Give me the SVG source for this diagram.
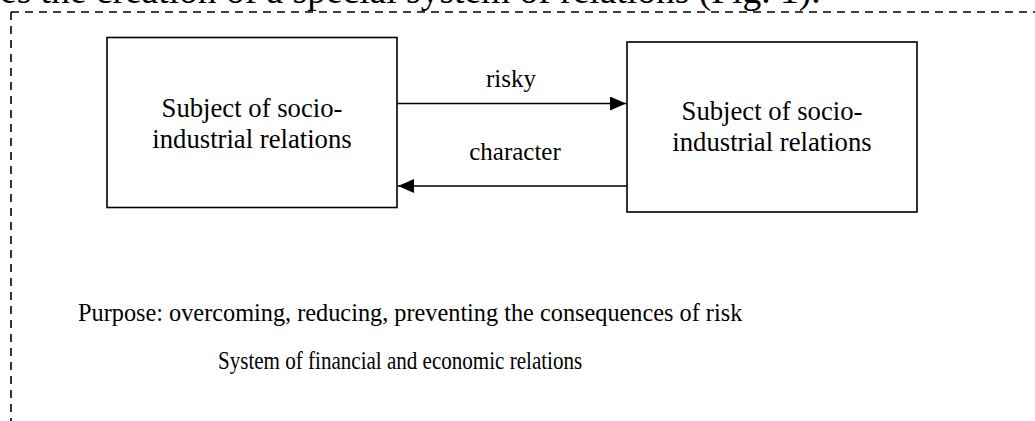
<svg xmlns="http://www.w3.org/2000/svg" width="1035" height="421" viewBox="0 0 1035 421">
  <style>
    .t { font-family: "Liberation Serif", "Times New Roman", serif; fill: #000; }
    .box { fill: #fff; stroke: #000; stroke-width: 1.6; }
    .conn { stroke: #000; stroke-width: 1.6; fill: none; }
    .dash { stroke: #000; stroke-width: 1.6; fill: none; stroke-dasharray: 8 6; }
  </style>
  <defs>
    <marker id="ah" markerWidth="16" markerHeight="14" refX="16" refY="7" orient="auto" markerUnits="userSpaceOnUse">
      <path d="M0,0 L16,7 L0,14 Z" fill="#000"/>
    </marker>
  </defs>
  <rect width="1035" height="421" fill="#fff"/>
  <text class="t" x="0" y="3" font-size="37.5">es the creation of a special system of relations (Fig. 1).</text>
  <g id="frame">
    <path class="dash" d="M11,12 L1035,12"/>
    <path class="dash" d="M11,12 L11,421"/>
  </g>
  <g id="subject-left">
    <rect class="box" x="107" y="37.5" width="290" height="170"/>
    <text class="t" x="252" y="117" font-size="26.7" text-anchor="middle">Subject of socio-</text>
    <text class="t" x="252" y="148" font-size="26.7" text-anchor="middle">industrial relations</text>
  </g>
  <g id="subject-right">
    <rect class="box" x="627" y="42" width="290" height="170"/>
    <text class="t" x="772" y="119.5" font-size="26.7" text-anchor="middle">Subject of socio-</text>
    <text class="t" x="772" y="150.5" font-size="26.7" text-anchor="middle">industrial relations</text>
  </g>
  <g id="connectors">
    <path class="conn" d="M397,103.5 L626,103.5" marker-end="url(#ah)"/>
    <path class="conn" d="M627,186 L398,186" marker-end="url(#ah)"/>
    <text class="t" x="511" y="87" font-size="25" text-anchor="middle">risky</text>
    <text class="t" x="515" y="160" font-size="25" text-anchor="middle">character</text>
  </g>
  <g id="purpose">
    <text class="t" transform="translate(78,321) scale(0.953,1)" x="0" y="0" font-size="25.5">Purpose: overcoming, reducing, preventing the consequences of risk</text>
  </g>
  <g id="system">
    <text class="t" transform="translate(218,369) scale(0.86,1)" x="0" y="0" font-size="24.5">System of financial and economic relations</text>
  </g>
</svg>
